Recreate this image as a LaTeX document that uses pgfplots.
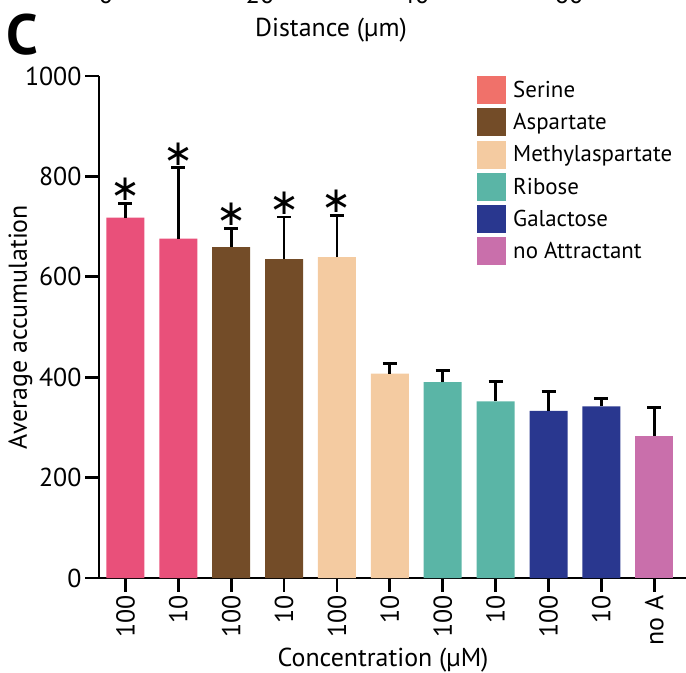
\documentclass[border=0pt]{standalone}
\usepackage{fontspec}
\setmainfont{PT Sans}
\newfontfamily\symfont{DejaVu Sans}
\usepackage{pgfplots}
\pgfplotsset{compat=1.18}

\definecolor{serine}{HTML}{E9507A}
\definecolor{serineKey}{HTML}{F0716A}
\definecolor{aspartate}{HTML}{734C28}
\definecolor{methylasp}{HTML}{F4CBA1}
\definecolor{ribose}{HTML}{5AB5A6}
\definecolor{galactose}{HTML}{29378F}
\definecolor{noattr}{HTML}{C96FAB}

\newcommand\lab{\fontsize{26}{30}\selectfont}

\pgfplotsset{
  grp/.style={
    ybar, bar width=38bp, bar shift=0pt, draw=none, fill=#1, forget plot,
    error bars/.cd, y dir=plus, y explicit,
    error bar style={line width=2.8bp, black},
    error mark options={rotate=90, mark size=7bp, line width=2.8bp, black}
  }
}

\begin{document}
\begin{tikzpicture}
\useasboundingbox (0,0) rectangle (686bp,673bp);
\clip (0,0) rectangle (686bp,673bp);
% bottom of the distance panel above
\foreach \x/\t in {106/0,260/20,415/40,569/60}
  \node[font=\lab, anchor=base, inner sep=0pt] at (\x bp, 669bp) {\t};
\node[font=\lab, anchor=base west, inner sep=0pt] at (255bp,636bp) {Distance (µm)};
\node[font=\bfseries\fontsize{57}{60}\selectfont, anchor=base west, inner sep=0pt] at (6bp,618bp) {C};

\begin{axis}[
  at={(99bp,95bp)}, anchor=south west,
  scale only axis, width=587bp, height=502bp,
  xmin=-0.5, xmax=10.6, ymin=0, ymax=1000,
  clip=false,
  axis x line=bottom, axis y line=left,
  axis line style={line width=2.8bp, -},
  tick style={line width=2.8bp, black},
  major tick length=14bp, tick align=outside,
  ytick={0,200,...,1000},
  xtick={0,...,10},
  xticklabels={100,10,100,10,100,10,100,10,100,10,no A},
  /pgf/number format/assume math mode=true,
  /pgf/number format/1000 sep={},
  yticklabel style={font=\lab},
  xticklabel style={font=\lab, rotate=90, anchor=east},
  ylabel={Average accumulation},
  ylabel style={font=\lab, at={(axis description cs:-0.134,0.5)}, anchor=center},
  xlabel={Concentration (µM)},
  xlabel style={font=\lab, at={(axis description cs:0.484,-0.163)}, anchor=center},
  legend image code/.code={\fill[draw=none,#1] (0bp,-14bp) rectangle (29bp,14bp); \path (36bp,0bp);},
  legend style={at={(rel axis cs:0.644,1)}, anchor=north west, draw=none, fill=none,
    inner sep=0pt, outer sep=0pt, row sep=4.3bp,
    font=\fontsize{23}{26}\selectfont, nodes={inner sep=0pt}},
  legend cell align=left,
]
\addplot[grp=serine]    coordinates {(0,718) +- (0,28)  (1,676) +- (0,141)};
\addplot[grp=aspartate] coordinates {(2,659) +- (0,38)  (3,635) +- (0,84)};
\addplot[grp=methylasp] coordinates {(4,639) +- (0,83)  (5,407) +- (0,20)};
\addplot[grp=ribose]    coordinates {(6,390) +- (0,23)  (7,352) +- (0,40)};
\addplot[grp=galactose] coordinates {(8,333) +- (0,39)  (9,342) +- (0,15)};
\addplot[grp=noattr]    coordinates {(10,283) +- (0,57)};

% significance marks above the error caps
\addplot[forget plot, only marks, mark=none, nodes near coords={\symfont ∗},
  nodes near coords style={font=\fontsize{36}{36}\selectfont, anchor=center, inner sep=0pt, yshift=14bp}]
  coordinates {(0,746) (1,817) (2,697) (3,719) (4,722)};

\addlegendimage{fill=serineKey}\addlegendentry{Serine}
\addlegendimage{fill=aspartate}\addlegendentry{Aspartate}
\addlegendimage{fill=methylasp}\addlegendentry{Methylaspartate}
\addlegendimage{fill=ribose}\addlegendentry{Ribose}
\addlegendimage{fill=galactose}\addlegendentry{Galactose}
\addlegendimage{fill=noattr}\addlegendentry{no Attractant}
\end{axis}
\end{tikzpicture}
\end{document}
